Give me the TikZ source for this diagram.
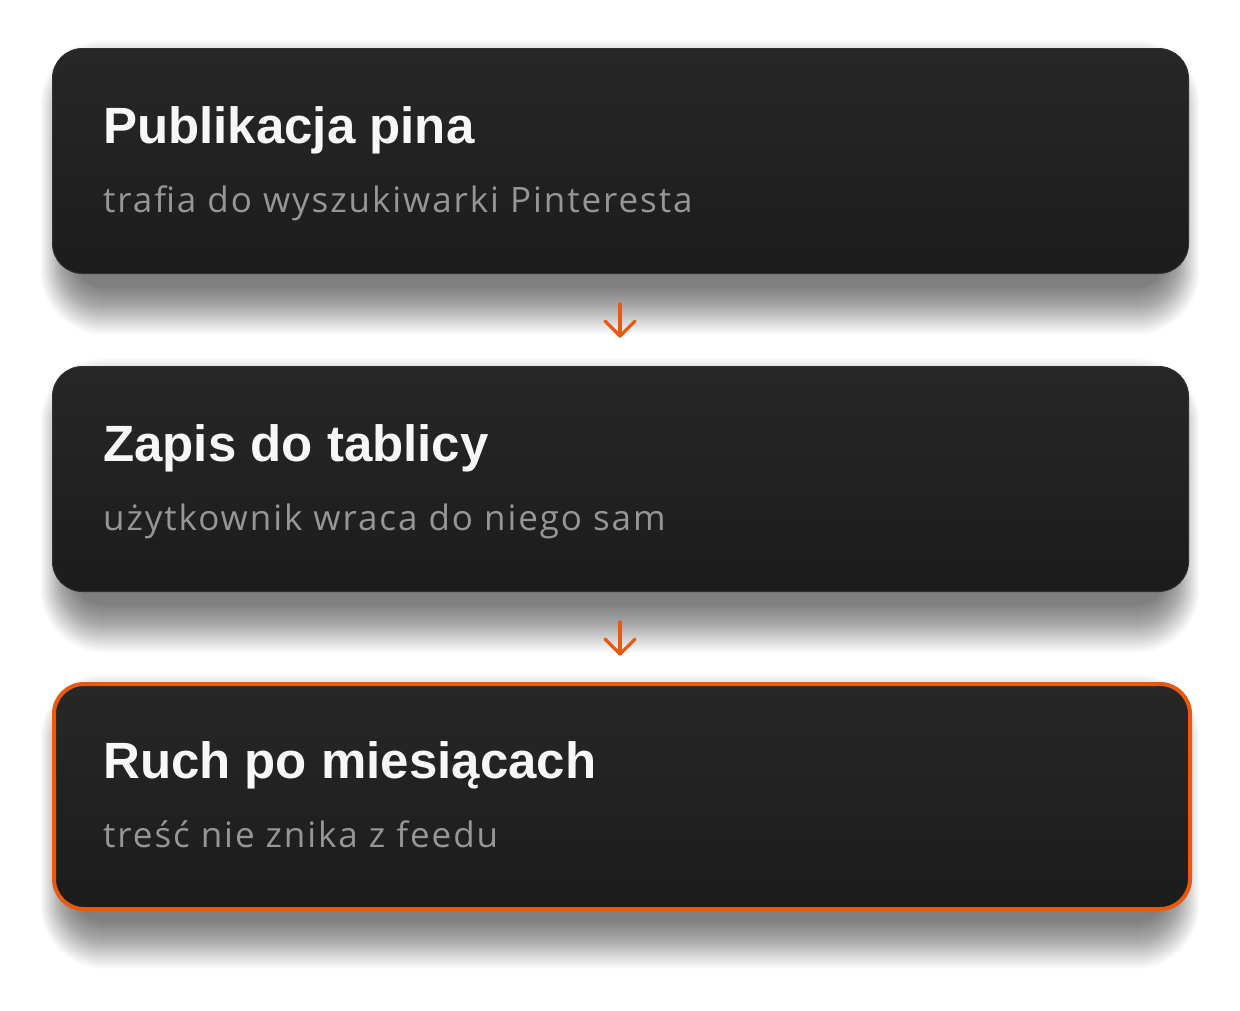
\documentclass[tikz,border=0pt]{standalone}
\usepackage{fontspec}
\setmainfont{Liberation Sans}
\newfontfamily\subfont[LetterSpace=5.5]{Open Sans}
\definecolor{org}{HTML}{E85A0F}
\definecolor{cardtop}{HTML}{272727}
\definecolor{cardbot}{HTML}{1C1C1C}
\definecolor{cardedge}{HTML}{303030}
\definecolor{subgray}{HTML}{969696}
\definecolor{ttlwhite}{HTML}{F7F7F7}
\tikzset{
  card/.style={rectangle, rounded corners=30pt, minimum width=1136pt, minimum height=225pt,
    anchor=north west, top color=cardtop, bottom color=cardbot, draw=cardedge, line width=1pt},
  hotcard/.style={card, draw=org, line width=4pt},
  ttl/.style={anchor=base west, inner sep=0pt, text=ttlwhite, font=\bfseries\fontsize{51}{60}\selectfont},
  sub/.style={anchor=base west, inner sep=0pt, text=subgray, font=\subfont\fontsize{35}{42}\selectfont},
  arr/.style={draw=org, line width=3.2pt, line cap=round, line join=round},
  shadowstep/.style={fill=black, fill opacity=0.013, draw=none}
}
\newcommand{\cardshadow}[2]{%
  \foreach \k in {0,1,...,48}{
    \fill[shadowstep, rounded corners={30pt+0.7*\k pt}]
      ({52+22-0.7*\k},{#1+20+20-\k}) rectangle ({1188-22+0.7*\k},{#2+14+\k});
  }}
\begin{document}
\begin{tikzpicture}[x=1pt,y=-1pt]
\useasboundingbox[fill=white] (0,0) rectangle (1240,1010);
\cardshadow{48}{273}
\cardshadow{366}{591}
\cardshadow{682}{907}
\node[card] (b1) at (52,48) {};
\node[card] (b2) at (52,366) {};
\node[hotcard] (b3) at (52,682) {};
\node[ttl] (t1) at (103,143) {Publikacja pina};
\node[sub] (s1) at (103,212) {trafia do wyszukiwarki Pinteresta};
\node[ttl] (t2) at (103,461) {Zapis do tablicy};
\node[sub] (s2) at (103,530) {użytkownik wraca do niego sam};
\node[ttl] (t3) at (103,778) {Ruch po miesiącach};
\node[sub] (s3) at (103,847) {treść nie znika z feedu};
% arrows
\coordinate (a1s) at (620,304);
\coordinate (a1e) at (620,336);
\coordinate (a2s) at (620,622);
\coordinate (a2e) at (620,654);
\draw[arr] (a1s) -- (a1e);
\draw[arr] ([xshift=-15pt,yshift=15pt]a1e) -- (a1e) -- ([xshift=15pt,yshift=15pt]a1e);
\draw[arr] (a2s) -- (a2e);
\draw[arr] ([xshift=-15pt,yshift=15pt]a2e) -- (a2e) -- ([xshift=15pt,yshift=15pt]a2e);
\end{tikzpicture}
\end{document}
